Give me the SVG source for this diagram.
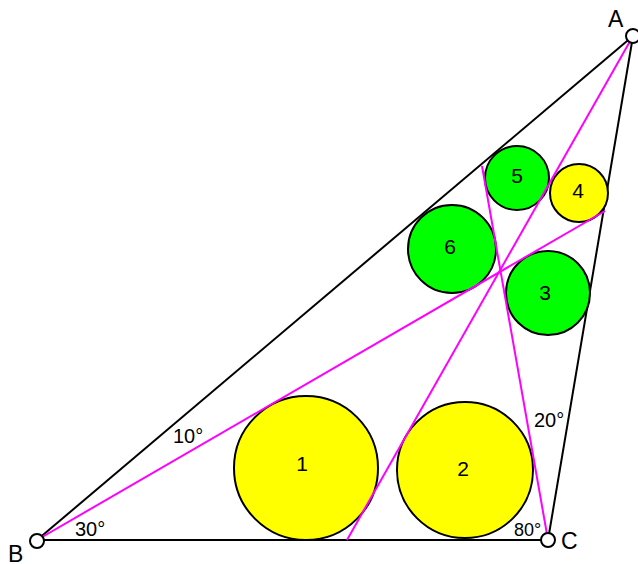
<svg xmlns="http://www.w3.org/2000/svg" width="638" height="564" viewBox="0 0 638 564">
<style>
.edge{stroke:#000;stroke-width:2;fill:none}
.cev{stroke:#ff00ff;stroke-width:2;fill:none}
.y{fill:#ffff00;stroke:#000;stroke-width:2}
.g{fill:#00ff00;stroke:#000;stroke-width:2}
.pt{fill:#fff;stroke:#000;stroke-width:2}
text{font-family:"Liberation Sans",Arial,sans-serif;fill:#000}
.num{font-size:21px;text-anchor:middle}
.lab{font-size:23px}
.ang{font-size:20px}
</style>
<g id="triangle">
<line class="edge" x1="37" y1="540" x2="548" y2="540"/>
<line class="edge" x1="37" y1="540" x2="633" y2="36"/>
<line class="edge" x1="548" y1="540" x2="633" y2="36"/>
</g>
<g id="circle1"><circle class="y" cx="306" cy="468" r="72"/><text class="num" x="302" y="471">1</text></g>
<g id="circle2"><circle class="y" cx="465" cy="470" r="68"/><text class="num" x="463" y="476">2</text></g>
<g id="circle3"><circle class="g" cx="548" cy="293" r="42"/><text class="num" x="545" y="300">3</text></g>
<g id="circle4"><circle class="y" cx="579" cy="193" r="29"/><text class="num" x="578" y="198">4</text></g>
<g id="circle5"><circle class="g" cx="517" cy="178" r="32"/><text class="num" x="517" y="183">5</text></g>
<g id="circle6"><circle class="g" cx="452" cy="249" r="44"/><text class="num" x="450" y="254">6</text></g>
<g id="connectors">
<line class="cev" x1="37" y1="540" x2="605" y2="211"/>
<line class="cev" x1="548" y1="540" x2="482" y2="166"/>
<line class="cev" x1="633" y1="36" x2="347" y2="540"/>
</g>
<g id="A"><circle class="pt" cx="633" cy="36" r="7"/><text class="lab" x="608" y="27">A</text></g>
<g id="B"><circle class="pt" cx="37" cy="541" r="7"/><text class="lab" x="8" y="562">B</text></g>
<g id="C"><circle class="pt" cx="548" cy="540" r="7"/><text class="lab" x="561" y="549">C</text></g>
<g id="angles">
<text class="ang" x="75" y="536">30°</text>
<text class="ang" x="173" y="443">10°</text>
<text class="ang" x="514" y="536" style="font-size:18px">80°</text>
<text class="ang" x="534" y="427">20°</text>
</g>
</svg>
